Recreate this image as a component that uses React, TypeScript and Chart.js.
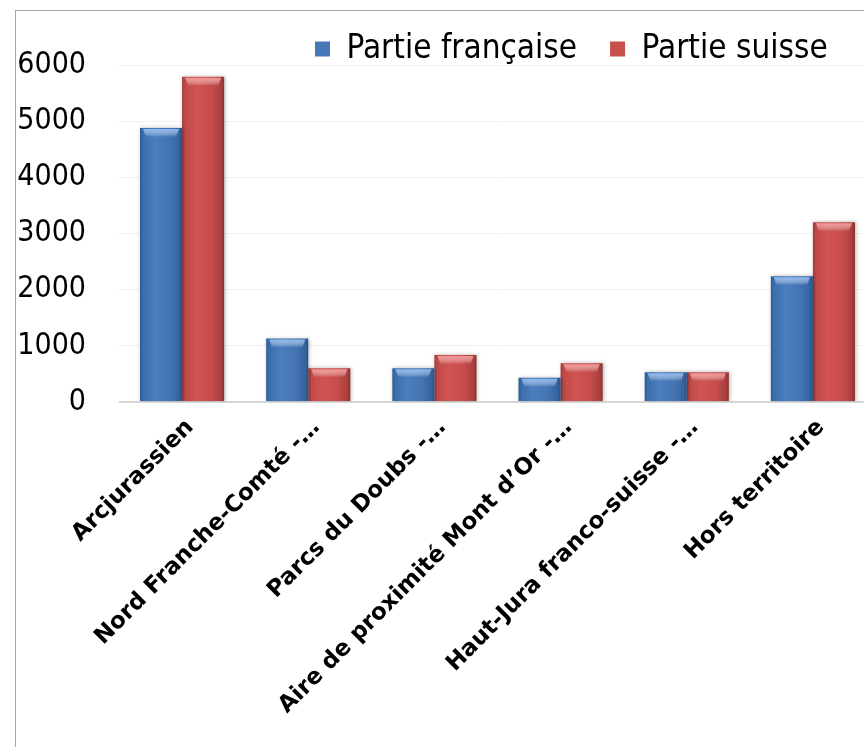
import React, { useEffect, useRef } from 'react';
import { Chart, registerables } from 'chart.js';

Chart.register(...registerables);

const categories = [
  'Arcjurassien',
  'Nord Franche-Comté -…',
  'Parcs du Doubs -…',
  'Aire de proximité Mont d’Or -…',
  'Haut-Jura franco-suisse -…',
  'Hors territoire',
];
const seriesNames = ['Partie française', 'Partie suisse'];
const partieFrancaise = [4880, 1130, 600, 430, 530, 2240];
const partieSuisse = [5790, 600, 835, 690, 530, 3200];
const yMin = 0;
const yMax = 6000;
const yStep = 1000;

const solidColors = ['#4678b8', '#c94f4d'];
const gradientStops: [number, string][][] = [
  [[0, '#2d5b94'], [0.07, '#3c6eab'], [0.35, '#4a7ebe'], [0.7, '#4475b3'], [0.93, '#3563a0'], [1, '#284f83']],
  [[0, '#9e3836'], [0.07, '#c04a48'], [0.35, '#d05452'], [0.7, '#c64d4b'], [0.93, '#a8403e'], [1, '#8a302f']],
];
const highlightColors = ['rgba(140,185,240,0.95)', 'rgba(245,150,148,0.95)'];

const condensed = '"DejaVu Sans Condensed", "DejaVu Sans", sans-serif';

const barStyle = {
  id: 'barStyle',
  beforeDatasetsDraw(chart: any) {
    const ctx = chart.ctx;
    chart.data.datasets.forEach((_ds: any, di: number) => {
      const meta = chart.getDatasetMeta(di);
      meta.data.forEach((el: any) => {
        const { x, width } = el.getProps(['x', 'width'], true);
        const g = ctx.createLinearGradient(x - width / 2, 0, x + width / 2, 0);
        gradientStops[di].forEach(([o, c]) => g.addColorStop(o, c));
        el.options = { ...el.options, backgroundColor: g };
      });
    });
  },
  beforeDatasetDraw(chart: any) {
    const ctx = chart.ctx;
    ctx.shadowColor = 'rgba(0,0,0,0.28)';
    ctx.shadowBlur = 4;
    ctx.shadowOffsetX = 1;
    ctx.shadowOffsetY = 0;
  },
  afterDatasetDraw(chart: any) {
    const ctx = chart.ctx;
    ctx.shadowColor = 'rgba(0,0,0,0)';
    ctx.shadowBlur = 0;
    ctx.shadowOffsetX = 0;
  },
  afterDatasetsDraw(chart: any) {
    const ctx = chart.ctx;
    chart.data.datasets.forEach((_ds: any, di: number) => {
      const meta = chart.getDatasetMeta(di);
      meta.data.forEach((el: any) => {
        const { x, y, width } = el.getProps(['x', 'y', 'width'], true);
        const left = x - width / 2 + 3;
        const w = width - 6;
        const h = 9;
        const g = ctx.createLinearGradient(0, y + 1, 0, y + h);
        g.addColorStop(0, highlightColors[di]);
        g.addColorStop(1, 'rgba(255,255,255,0)');
        ctx.save();
        ctx.fillStyle = g;
        ctx.beginPath();
        ctx.moveTo(left, y + 1);
        ctx.lineTo(left + w, y + 1);
        ctx.lineTo(left + w - 3, y + h);
        ctx.lineTo(left + 3, y + h);
        ctx.closePath();
        ctx.fill();
        ctx.restore();
      });
    });
  },
};

const legendPlace = {
  id: 'legendPlace',
  afterLayout(chart: any) {
    const l = chart.legend;
    if (!l) return;
    l.left = 266;
    l.right = chart.width;
    l.top = -11.5;
    l.bottom = 54;
  },
};

export default function App() {
  const ref = useRef<HTMLCanvasElement | null>(null);

  useEffect(() => {
    if (!ref.current) return;
    const chart = new Chart(ref.current, {
      type: 'bar',
      data: {
        labels: categories,
        datasets: [
          {
            label: seriesNames[0],
            data: partieFrancaise,
            backgroundColor: solidColors[0],
            borderWidth: 0,
            categoryPercentage: 0.667,
            barPercentage: 1,
          },
          {
            label: seriesNames[1],
            data: partieSuisse,
            backgroundColor: solidColors[1],
            borderWidth: 0,
            categoryPercentage: 0.667,
            barPercentage: 1,
          },
        ],
      },
      options: {
        responsive: false,
        animation: false,
        layout: { padding: 0 },
        plugins: {
          legend: {
            position: 'top',
            align: 'start',
            maxHeight: 54,
            labels: {
              boxWidth: 15,
              boxHeight: 15,
              padding: 33,
              color: '#000',
              font: { family: condensed, size: 33 },
            },
          },
          tooltip: { enabled: false },
        },
        scales: {
          x: {
            grid: { display: false },
            border: { display: false },
            ticks: {
              color: '#000',
              autoSkip: false,
              maxRotation: 45,
              minRotation: 45,
              padding: 4,
              labelOffset: 8,
              font: { family: '"DejaVu Sans", sans-serif', size: 23, weight: 'bold' },
            },
            afterFit(scale: any) {
              scale.height = 339;
            },
          },
          y: {
            min: yMin,
            max: yMax,
            border: { display: false },
            grid: {
              drawTicks: false,
              color: (c: any) => (c.tick && c.tick.value === 0 ? '#d6d6d6' : '#f0f0f0'),
              lineWidth: (c: any) => (c.tick && c.tick.value === 0 ? 2 : 1),
            },
            ticks: {
              stepSize: yStep,
              color: '#000',
              padding: 33,
              font: { family: condensed, size: 30 },
              callback: (v: any) => String(v),
            },
            afterFit(scale: any) {
              scale.width = 103;
            },
          },
        },
      },
      plugins: [barStyle, legendPlace],
    } as any);
    return () => chart.destroy();
  }, []);

  return (
    <div style={{ position: 'fixed', left: 0, top: 0, width: 864, height: 747, overflow: 'hidden', background: '#fff' }}>
      <div
        style={{
          position: 'absolute',
          left: 15,
          top: 10,
          width: 900,
          height: 800,
          border: '1px solid #a5a5a5',
          boxSizing: 'border-box',
        }}
      >
        <canvas ref={ref} width={860} height={730} style={{ position: 'absolute', left: 0, top: 0, width: 860, height: 730 }} />
      </div>
    </div>
  );
}
